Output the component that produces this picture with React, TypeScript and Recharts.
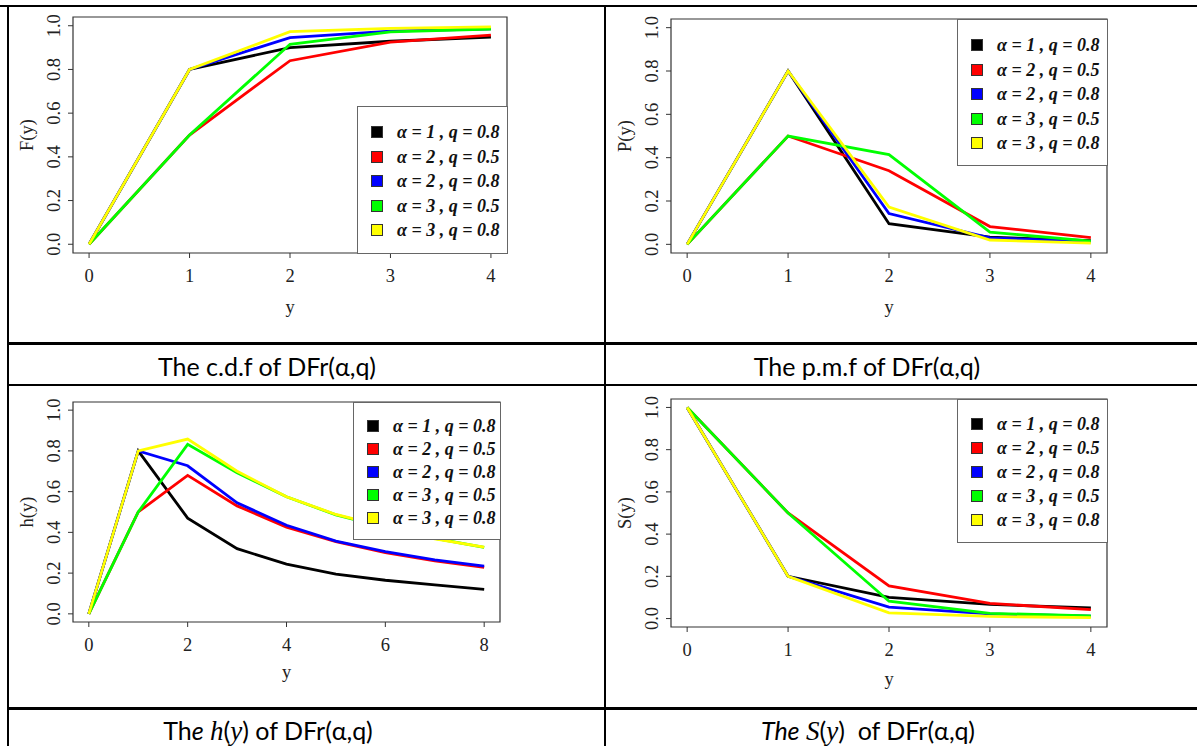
import React from "react";
import { LineChart, Line, XAxis, YAxis, Legend, ReferenceArea } from "recharts";

// ─── data ────────────────────────────────────────────────────────────────────

const yShort = [0, 1, 2, 3, 4];
const yLong = [0, 1, 2, 3, 4, 5, 6, 7, 8];
const xTicksShort = [0, 1, 2, 3, 4];
const xTicksLong = [0, 2, 4, 6, 8];
const probTicks = [0, 0.2, 0.4, 0.6, 0.8, 1];

const seriesKeys = ["a1q08", "a2q05", "a2q08", "a3q05", "a3q08"];
const seriesNames = [
  "α = 1 , q = 0.8",
  "α = 2 , q = 0.5",
  "α = 2 , q = 0.8",
  "α = 3 , q = 0.5",
  "α = 3 , q = 0.8",
];
const seriesColors = ["#000000", "#ff0000", "#0000ff", "#00ff00", "#ffff00"];

// c.d.f F(y)
const cdfA1Q08 = [0, 0.8, 0.9, 0.929, 0.948];
const cdfA2Q05 = [0, 0.5, 0.84, 0.925, 0.957];
const cdfA2Q08 = [0, 0.8, 0.946, 0.975, 0.986];
const cdfA3Q05 = [0, 0.5, 0.915, 0.972, 0.985];
const cdfA3Q08 = [0, 0.8, 0.973, 0.988, 0.995];

// p.m.f P(y)
const pmfA1Q08 = [0, 0.8, 0.095, 0.033, 0.017];
const pmfA2Q05 = [0, 0.5, 0.34, 0.082, 0.031];
const pmfA2Q08 = [0, 0.8, 0.142, 0.03, 0.012];
const pmfA3Q05 = [0, 0.5, 0.414, 0.056, 0.015];
const pmfA3Q08 = [0, 0.8, 0.172, 0.02, 0.006];

// hazard h(y)
const hA1Q08 = [0, 0.8, 0.47, 0.32, 0.244, 0.195, 0.165, 0.142, 0.12];
const hA2Q05 = [0, 0.5, 0.68, 0.53, 0.426, 0.355, 0.3, 0.26, 0.228];
const hA2Q08 = [0, 0.8, 0.727, 0.545, 0.435, 0.357, 0.305, 0.265, 0.234];
const hA3Q05 = [0, 0.5, 0.832, 0.693, 0.575, 0.486, 0.425, 0.37, 0.326];
const hA3Q08 = [0, 0.8, 0.858, 0.7, 0.575, 0.488, 0.427, 0.368, 0.327];

// survival S(y)
const sA1Q08 = [1, 0.2, 0.1, 0.067, 0.05];
const sA2Q05 = [1, 0.5, 0.155, 0.072, 0.042];
const sA2Q08 = [1, 0.2, 0.054, 0.022, 0.011];
const sA3Q05 = [1, 0.5, 0.082, 0.025, 0.012];
const sA3Q08 = [1, 0.2, 0.027, 0.01, 0.004];

function toRows(xs: number[], cols: number[][]) {
  return xs.map((y, i) => {
    const row: Record<string, number> = { y };
    seriesKeys.forEach((k, j) => (row[k] = cols[j][i]));
    return row;
  });
}

const cdfRows = toRows(yShort, [cdfA1Q08, cdfA2Q05, cdfA2Q08, cdfA3Q05, cdfA3Q08]);
const pmfRows = toRows(yShort, [pmfA1Q08, pmfA2Q05, pmfA2Q08, pmfA3Q05, pmfA3Q08]);
const hRows = toRows(yLong, [hA1Q08, hA2Q05, hA2Q08, hA3Q05, hA3Q08]);
const sRows = toRows(yShort, [sA1Q08, sA2Q05, sA2Q08, sA3Q05, sA3Q08]);

// ─── R-ish pieces ────────────────────────────────────────────────────────────

const SERIF = "'Liberation Serif', 'Times New Roman', serif";
const AXIS = "#333";
const FS = 18.5;

function YTick(props: any) {
  const { x, y, payload } = props;
  const cx = x - 8;
  return (
    <text
      x={cx}
      y={y}
      transform={`rotate(-90 ${cx} ${y})`}
      textAnchor="middle"
      fontFamily={SERIF}
      fontSize={FS}
      fill="#222"
    >
      {Number(payload.value).toFixed(1)}
    </text>
  );
}

const yTitle = (text: string) => (props: any) => {
  const vb = props.viewBox || { x: 0, y: 0, width: 65, height: 200 };
  const cx = vb.x + vb.width - 40;
  const cy = vb.y + vb.height / 2;
  return (
    <text x={cx} y={cy} transform={`rotate(-90 ${cx} ${cy})`} textAnchor="middle"
      fontFamily={SERIF} fontSize={FS} fill="#222">
      {text}
    </text>
  );
};

const xTitle = (dy: number) => (props: any) => {
  const vb = props.viewBox || { x: 0, y: 0, width: 400, height: 80 };
  return (
    <text x={vb.x + vb.width / 2} y={vb.y + dy} textAnchor="middle"
      fontFamily={SERIF} fontSize={FS} fill="#222">
      y
    </text>
  );
};

type LegendGeo = { left: number; top: number; width: number; height: number; first: number; gap: number };

function BoxLegend({ payload, geo }: any) {
  const g: LegendGeo = geo;
  return (
    <div style={{ position: "relative", width: g.width, height: g.height, boxSizing: "border-box",
      border: "1px solid #666", background: "#fff" }}>
      {(payload || []).map((p: any, i: number) => (
        <div key={i} style={{ position: "absolute", left: 0, top: g.first + i * g.gap - 10, height: 20, width: "100%" }}>
          <span style={{ position: "absolute", left: 13, top: 4, width: 12, height: 12, boxSizing: "border-box",
            background: p.color, border: "1px solid #333" }} />
          <span style={{ position: "absolute", left: 39, top: 0, lineHeight: "20px", whiteSpace: "nowrap",
            fontFamily: SERIF, fontSize: 18, fontWeight: "bold", fontStyle: "italic", color: "#111" }}>
            {p.value}
          </span>
        </div>
      ))}
    </div>
  );
}

type PanelProps = {
  left: number; top: number; width: number; height: number;
  mTop: number; yW: number; mRight: number; xH: number;
  rows: Record<string, number>[];
  xDomain: [number, number]; xTicks: number[];
  yLabel: string; xLabelDy: number; legend: LegendGeo;
};

function Panel(p: PanelProps) {
  return (
    <div style={{ position: "absolute", left: p.left, top: p.top }}>
      <LineChart width={p.width} height={p.height} data={p.rows}
        margin={{ top: p.mTop, right: p.mRight, left: 0, bottom: 0 }}>
        <XAxis type="number" dataKey="y" domain={p.xDomain} ticks={p.xTicks} interval={0}
          allowDataOverflow height={p.xH} axisLine={false} tickSize={5} tickMargin={11}
          tickLine={{ stroke: AXIS }} tick={{ fontFamily: SERIF, fontSize: FS, fill: "#222" }}
          label={xTitle(p.xLabelDy)} />
        <YAxis type="number" domain={[-0.04, 1.04]} ticks={probTicks} interval={0} allowDataOverflow
          width={p.yW} axisLine={false} tickSize={5} tickMargin={0} tickLine={{ stroke: AXIS }}
          tick={<YTick />} label={yTitle(p.yLabel)} />
        <ReferenceArea x1={p.xDomain[0]} x2={p.xDomain[1]} y1={-0.04} y2={1.04}
          fill="none" stroke={AXIS} strokeWidth={1.2} />
        {seriesKeys.map((k, i) => (
          <Line key={k} type="linear" dataKey={k} name={seriesNames[i]} stroke={seriesColors[i]}
            strokeWidth={2.8} dot={false} isAnimationActive={false} />
        ))}
        <Legend layout="vertical" align="center" verticalAlign="middle"
          wrapperStyle={{ left: p.legend.left, top: p.legend.top, width: p.legend.width, height: p.legend.height }}
          content={(lp: any) => <BoxLegend payload={lp.payload} geo={p.legend} />} />
      </LineChart>
    </div>
  );
}

// ─── page ────────────────────────────────────────────────────────────────────

const CAPTION = "Lato, 'Open Sans', sans-serif";

function Caption({ cx, cy, children }: { cx: number; cy: number; children: React.ReactNode }) {
  return (
    <div style={{ position: "absolute", left: cx - 200, top: cy - 16, width: 400, textAlign: "center",
      fontFamily: CAPTION, fontSize: 25, lineHeight: "32px", color: "#000", whiteSpace: "nowrap" }}>
      {children}
    </div>
  );
}

const math = { fontFamily: SERIF, fontStyle: "italic" as const, fontSize: 27 };

function Rule({ x, y, w, h }: { x: number; y: number; w: number; h: number }) {
  return <div style={{ position: "absolute", left: x, top: y, width: w, height: h, background: "#000" }} />;
}

export default function App() {
  return (
    <div style={{ position: "absolute", left: 0, top: 0, width: 1197, height: 746, overflow: "hidden", background: "#fff" }}>
      <Rule x={0} y={5} w={1197} h={2} />
      <Rule x={7} y={5} w={2} h={741} />
      <Rule x={604} y={5} w={2} h={741} />
      <Rule x={7} y={342} w={1190} h={3} />
      <Rule x={7} y={384} w={1190} h={2} />
      <Rule x={7} y={707} w={1190} h={3} />

      <Panel left={8} top={8} width={597} height={334} mTop={9} yW={65} mRight={98} xH={89}
        rows={cdfRows} xDomain={[-0.16, 4.16]} xTicks={xTicksShort} yLabel="F(y)" xLabelDy={60}
        legend={{ left: 349, top: 98, width: 151, height: 148, first: 25, gap: 24.5 }} />
      <Panel left={606} top={8} width={591} height={334} mTop={11} yW={65} mRight={90} xH={89}
        rows={pmfRows} xDomain={[-0.16, 4.16]} xTicks={xTicksShort} yLabel="P(y)" xLabelDy={60}
        legend={{ left: 351, top: 11, width: 151, height: 147, first: 25, gap: 24.5 }} />
      <Panel left={8} top={386} width={597} height={320} mTop={16} yW={65} mRight={105} xH={84}
        rows={hRows} xDomain={[-0.32, 8.32]} xTicks={xTicksLong} yLabel="h(y)" xLabelDy={56}
        legend={{ left: 345, top: 16, width: 148, height: 138, first: 23, gap: 23 }} />
      <Panel left={606} top={386} width={591} height={320} mTop={13} yW={65} mRight={90} xH={79}
        rows={sRows} xDomain={[-0.16, 4.16]} xTicks={xTicksShort} yLabel="S(y)" xLabelDy={58}
        legend={{ left: 351, top: 13, width: 151, height: 144, first: 24, gap: 24 }} />

      <Caption cx={267} cy={366}>The c.d.f of DFr(α,q)</Caption>
      <Caption cx={867} cy={366}>The p.m.f of DFr(α,q)</Caption>
      <Caption cx={268} cy={730}>
        Th<i>e</i> <span style={math}>h</span>(<span style={math}>y</span>) of DFr(α,q)
      </Caption>
      <Caption cx={868} cy={730}>
        <i>The</i> <span style={math}>S</span>(<span style={math}>y</span>)&nbsp; of DFr(α,q)
      </Caption>
    </div>
  );
}
